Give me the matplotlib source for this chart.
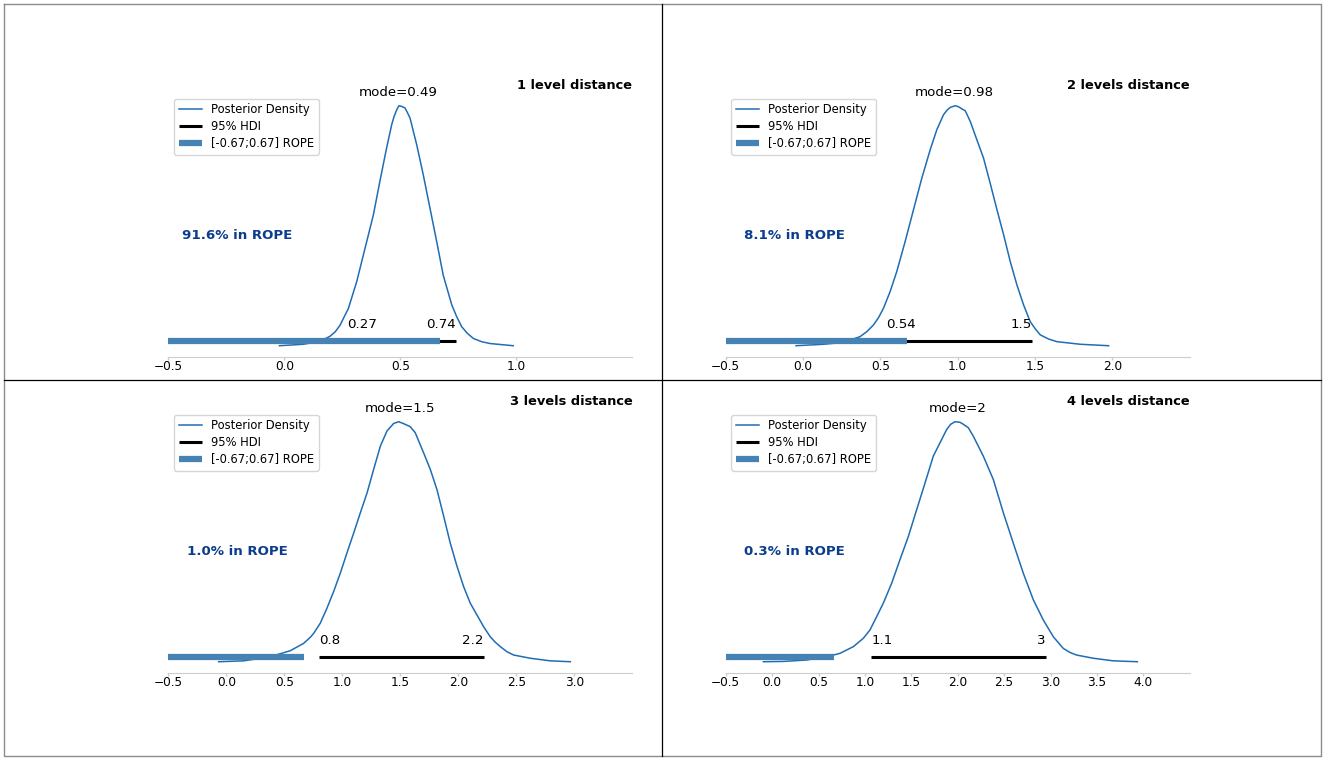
import matplotlib
matplotlib.use("Agg")
import matplotlib.pyplot as plt
from matplotlib.lines import Line2D

# STEP1: data
titles = ["1 level distance", "2 levels distance", "3 levels distance", "4 levels distance"]

x_1 = [-0.021, 0.082, 0.154, 0.197, 0.219, 0.240, 0.257, 0.276, 0.312, 0.348, 0.384, 0.412, 0.441,
       0.463, 0.473, 0.484, 0.494, 0.506, 0.520, 0.530, 0.542, 0.556, 0.571, 0.599, 0.628, 0.657,
       0.685, 0.722, 0.743, 0.765, 0.789, 0.815, 0.851, 0.887, 0.987]
dens_1 = [0.0, 0.02, 0.06, 0.13, 0.19, 0.28, 0.39, 0.51, 0.88, 1.34, 1.80, 2.26, 2.72,
          3.04, 3.15, 3.24, 3.30, 3.29, 3.27, 3.21, 3.13, 2.95, 2.76, 2.35, 1.89, 1.43,
          0.97, 0.56, 0.40, 0.26, 0.17, 0.10, 0.055, 0.03, 0.0]

x_2 = [-0.045, 0.132, 0.261, 0.369, 0.412, 0.455, 0.488, 0.520, 0.563, 0.606, 0.660, 0.714, 0.768,
       0.822, 0.865, 0.908, 0.930, 0.951, 0.984, 1.005, 1.027, 1.049, 1.081, 1.124, 1.167, 1.210,
       1.254, 1.297, 1.340, 1.383, 1.426, 1.469, 1.502, 1.534, 1.588, 1.642, 1.793, 1.976]
dens_2 = [0.0, 0.01, 0.023, 0.063, 0.097, 0.143, 0.194, 0.259, 0.374, 0.513, 0.720, 0.940, 1.159,
          1.355, 1.494, 1.597, 1.628, 1.648, 1.660, 1.653, 1.638, 1.625, 1.552, 1.424, 1.298, 1.124,
          0.940, 0.767, 0.581, 0.420, 0.282, 0.166, 0.116, 0.075, 0.046, 0.028, 0.010, 0.0]

x_3 = [-0.066, 0.149, 0.379, 0.552, 0.667, 0.724, 0.753, 0.810, 0.868, 0.925, 0.983, 1.040, 1.098,
       1.155, 1.213, 1.270, 1.328, 1.385, 1.443, 1.486, 1.529, 1.586, 1.629, 1.701, 1.759, 1.816,
       1.874, 1.931, 1.989, 2.046, 2.103, 2.161, 2.218, 2.276, 2.319, 2.362, 2.420, 2.477, 2.621,
       2.793, 2.966]
dens_3 = [0.0, 0.004, 0.023, 0.051, 0.085, 0.113, 0.131, 0.178, 0.248, 0.324, 0.410, 0.503, 0.595,
          0.688, 0.780, 0.889, 0.997, 1.067, 1.102, 1.110, 1.101, 1.087, 1.059, 0.966, 0.889, 0.796,
          0.673, 0.548, 0.441, 0.347, 0.271, 0.216, 0.162, 0.115, 0.090, 0.070, 0.046, 0.031, 0.016,
          0.004, 0.0]

x_4 = [-0.094, 0.121, 0.373, 0.588, 0.732, 0.875, 0.983, 1.055, 1.127, 1.199, 1.288, 1.378, 1.468,
       1.558, 1.648, 1.737, 1.809, 1.881, 1.924, 1.971, 2.025, 2.061, 2.115, 2.168, 2.276, 2.384,
       2.492, 2.599, 2.707, 2.815, 2.923, 3.031, 3.138, 3.210, 3.282, 3.462, 3.677, 3.936]
dens_4 = [0.0, 0.001, 0.006, 0.017, 0.029, 0.052, 0.081, 0.110, 0.156, 0.203, 0.271, 0.353, 0.433,
          0.526, 0.618, 0.711, 0.757, 0.803, 0.821, 0.830, 0.828, 0.821, 0.809, 0.780, 0.711, 0.630,
          0.515, 0.410, 0.306, 0.214, 0.144, 0.086, 0.046, 0.032, 0.023, 0.012, 0.003, 0.0]

xs = [x_1, x_2, x_3, x_4]
dens = [dens_1, dens_2, dens_3, dens_4]

modes = [0.49, 0.98, 1.5, 2.0]
mode_labels = ["mode=0.49", "mode=0.98", "mode=1.5", "mode=2"]
hdi_low = [0.27, 0.54, 0.80, 1.07]
hdi_high = [0.74, 1.48, 2.22, 2.95]
hdi_low_labels = ["0.27", "0.54", "0.8", "1.1"]
hdi_high_labels = ["0.74", "1.5", "2.2", "3"]
rope = [-0.67, 0.67]
in_rope = ["91.6%", "8.1%", "1.0%", "0.3%"]
x_max = [1.5, 2.5, 3.5, 4.5]
xticks = [[-0.5, 0.0, 0.5, 1.0],
          [-0.5, 0.0, 0.5, 1.0, 1.5, 2.0],
          [-0.5, 0.0, 0.5, 1.0, 1.5, 2.0, 2.5, 3.0],
          [-0.5, 0.0, 0.5, 1.0, 1.5, 2.0, 2.5, 3.0, 3.5, 4.0]]


# STEP2: plot them
W, H = 1325, 761
fig = plt.figure(figsize=(W / 100, H / 100), dpi=100)

# panel corners in pixels (left of x axis, y of x axis)
corners = [(168.3, 357), (725.7, 357), (168.3, 673), (725.7, 673)]
ax_w, ax_h = 464, 264

for i in range(4):
  L, B = corners[i]
  ax = fig.add_axes([L / W, 1 - B / H, ax_w / W, ax_h / H])
  peak = max(dens[i])

  ax.plot(xs[i], dens[i], color="#1f6db3", lw=1.1, label="Posterior Density")
  ax.plot([hdi_low[i], hdi_high[i]], [peak * 0.02, peak * 0.02], color="k", lw=2.2,
          solid_capstyle="butt", label="95% HDI")
  ax.plot(rope, [peak * 0.02, peak * 0.02], color="steelblue", lw=4.5, solid_capstyle="butt",
          label="[%.2f;%.2f] ROPE" % (rope[0], rope[1]))

  ax.text(hdi_low[i], peak * 0.072, hdi_low_labels[i], ha="left", fontsize=9.6)
  ax.text(hdi_high[i], peak * 0.072, hdi_high_labels[i], ha="right", fontsize=9.6)
  ax.text(modes[i], 1.003, mode_labels[i], ha="center", va="center", fontsize=9.6,
          transform=ax.get_xaxis_transform())
  ax.text(0.149, 0.459, in_rope[i] + " in ROPE", ha="center", va="center", fontsize=9.6,
          fontweight="bold", color="#0b3d8c", transform=ax.transAxes)
  ax.text(1.0, 1.027, titles[i], ha="right", va="center", fontsize=9.4, fontweight="bold",
          transform=ax.transAxes)

  ax.set_xlim(-0.5, x_max[i])
  ax.set_ylim(-0.047 * peak, 1.053 * peak)
  ax.set_xticks(xticks[i])
  ax.set_yticks([])
  for s in ["top", "right", "left"]:
    ax.spines[s].set_visible(False)
  ax.spines["bottom"].set_color("0.8")
  ax.tick_params(axis="x", length=2, width=1, color="0.8", labelsize=8.7, pad=0.5)
  ax.patch.set_alpha(0)

  ax.legend(loc="upper left", fontsize=8.3, labelspacing=0.33)

# frame and separators
def fx(p):
  return p / W

def fy(p):
  return 1 - p / H

fig.add_artist(Line2D([fx(3.7), fx(1320.7), fx(1320.7), fx(3.7), fx(3.7)],
                      [fy(3.7), fy(3.7), fy(756.3), fy(756.3), fy(3.7)],
                      color="0.55", lw=1.0))
fig.add_artist(Line2D([fx(662.3), fx(662.3)], [fy(3.7), fy(756.3)], color="k", lw=0.9))
fig.add_artist(Line2D([fx(3.7), fx(1320.7)], [fy(380.3), fy(380.3)], color="k", lw=0.9))

plt.savefig("out.png", dpi=100)
